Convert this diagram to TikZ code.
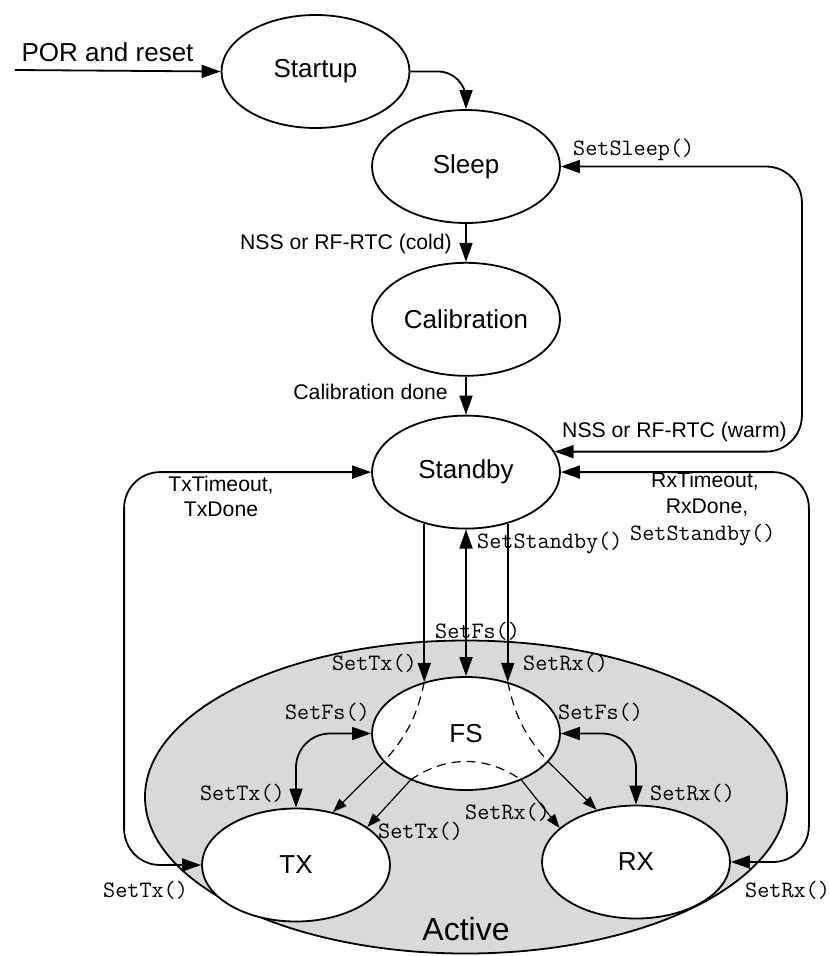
\documentclass[tikz,border=0pt]{standalone}
\usepackage{fontspec}
\setmainfont{Liberation Sans}
\usepackage{tikz}
\usetikzlibrary{positioning, shapes, arrows.meta}
\tikzset{mode/.style={ellipse, draw, fill=white, line width=1.8pt, minimum width=188pt, minimum height=113pt, inner sep=0pt, font=\fontsize{26}{30}\selectfont}}
\tikzset{trans/.style={line width=1.8pt, ->}}
\tikzset{loop/.style={line width=1.8pt, <->, rounded corners=36pt}}
\tikzset{hidden/.style={line width=1.2pt, dash pattern=on 9pt off 6pt}}
\tikzset{thinarrow/.style={line width=1.2pt, -{Triangle[length=14pt,width=10pt]}}}
\tikzset{cond/.style={inner sep=0pt, font=\fontsize{21.2}{25}\selectfont}}
\tikzset{call/.style={inner sep=0pt, font=\ttfamily\fontsize{23.5}{28}\selectfont}}

\begin{document}
\begin{tikzpicture}[x=1pt, y=-1pt, >={Triangle[length=19pt,width=13pt]}]
  \useasboundingbox (0,0) rectangle (830,956);

  % the Active super state
  \node[ellipse, draw, fill=black!15, line width=1.8pt, minimum width=642pt, minimum height=313pt] (active) at (466,797) {};
  \node[anchor=base, font=\fontsize{32}{36}\selectfont] (activelbl) at (466,940) {Active};

  \node[mode] (startup) at (315.5,71.5) {Startup};
  \node[mode] (sleep) at (466,166.5) {Sleep};
  \node[mode] (calib) [below=38pt of sleep] {Calibration};
  \node[mode] (standby) [below=38pt of calib] {Standby};
  \node[mode] (fs) at (466,733.5) {FS};
  \node[mode] (tx) at (296,865) {TX};
  \node[mode] (rx) at (636,862) {RX};

  \coordinate (por) at (15,70);
  \draw[trans] (por) -- (startup.west);
  \draw[trans, rounded corners=28pt] (startup.east) -| (sleep.north);
  \draw[trans] (sleep) -- (calib);
  \draw[trans] (calib) -- (standby);

  % loops on the right and left
  \draw[loop] (sleep.east) -- ++(241,0) |- (standby.13);
  \draw[loop] (standby.east) -- ++(248,0) |- (rx.east);
  \draw[loop] (standby.west) -- ++(-247,0) |- (tx.west);

  \draw[trans] (standby.231) -- (fs.129);
  \draw[trans] (standby.309) -- (fs.51);
  \draw[trans, <->] (standby.south) -- (fs.north);

  \draw[hidden] (fs.129) to[bend left=15] (fs.199);
  \draw[hidden] (fs.51) to[bend right=15] (fs.341);
  \draw[hidden] (fs.220) to[bend left=35] (fs.320);

  \draw[thinarrow] (fs.199) -- (tx.55);
  \draw[thinarrow] (fs.220) -- (tx.28);
  \draw[thinarrow] (fs.341) -- (rx.127);
  \draw[thinarrow] (fs.320) -- (rx.156);

  \draw[loop, rounded corners=34pt] (fs.west) -| (tx.north);
  \draw[loop, rounded corners=34pt] (fs.east) -| (rx.north);

  % labels
  \node[cond, anchor=base, font=\fontsize{26}{30}\selectfont] (lpor) at (107.5,61) {POR and reset};
  \node[cond, anchor=base east] (lcold) at (452,249) {NSS or RF-RTC (cold)};
  \node[cond, anchor=base east] (ldone) at (448,399) {Calibration done};
  \node[call, anchor=base west] (lsleep) at (573,155) {SetSleep()};
  \node[cond, anchor=base west] (lwarm) at (562,437) {NSS or RF-RTC (warm)};
  \node[cond, anchor=base] (ltxa) at (221,491) {TxTimeout,};
  \node[cond, anchor=base] (ltxb) at (221,516) {TxDone};
  \node[cond, anchor=base] (lrxa) at (705,487) {RxTimeout,};
  \node[cond, anchor=base] (lrxb) at (707,513) {RxDone,};
  \node[call, anchor=base west] (lrxc) at (630,540) {SetStandby()};
  \node[call, anchor=base west] (lstby) at (477,548) {SetStandby()};
  \node[call, anchor=base west] (lfs) at (435,638) {SetFs()};
  \node[call, anchor=base east] (ltx1) at (417,670) {SetTx()};
  \node[call, anchor=base west] (lrx1) at (523,670) {SetRx()};
  \node[call, anchor=base east] (lfs2) at (370,719) {SetFs()};
  \node[call, anchor=base west] (lfs3) at (558,719) {SetFs()};
  \node[call, anchor=base east] (ltx2) at (285,800) {SetTx()};
  \node[call, anchor=base west] (lrx2) at (650,800) {SetRx()};
  \node[call, anchor=base west] (ltx3) at (378,838) {SetTx()};
  \node[call, anchor=base west] (lrx3) at (465,819) {SetRx()};
  \node[call, anchor=base west] (ltx4) at (103,897) {SetTx()};
  \node[call, anchor=base west] (lrx4) at (745,897) {SetRx()};
\end{tikzpicture}
\end{document}
